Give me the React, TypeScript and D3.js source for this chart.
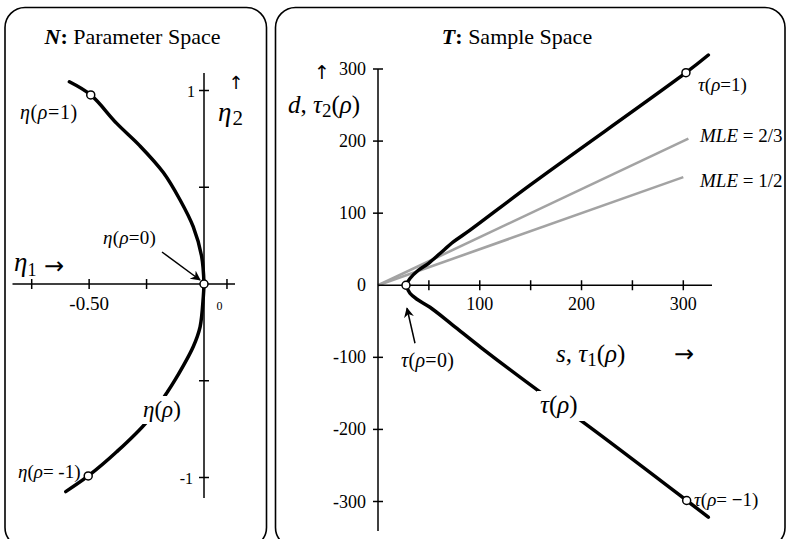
import React from "react";
import * as d3 from "d3";

// ---- Parameter space N: curve eta(rho) = (eta1, eta2) ----
const etaUpper1 = [-0.586, -0.493, -0.38, -0.279, -0.177, -0.104, -0.047, -0.01, 0];
const etaUpper2 = [1.045, 0.977, 0.83, 0.714, 0.576, 0.434, 0.296, 0.141, 0];
const etaLower1 = [-0.602, -0.504, -0.38, -0.249, -0.163, -0.126, -0.047, -0.017, -0.003, 0];
const etaLower2 = [-1.073, -0.992, -0.867, -0.712, -0.565, -0.496, -0.324, -0.221, -0.066, 0];
// marked points rho = 1, 0, -1
const etaMarks1 = [-0.493, 0, -0.504];
const etaMarks2 = [0.977, 0, -0.992];
const etaXTicks = [-0.75, -0.5, -0.25, 0.1];
const etaYTicks = [-1, -0.5, 0.5, 1];

// ---- Sample space T: curve tau(rho) = (s, d) ----
const tauUpperS = [27.5, 31.4, 39.6, 49.4, 60.9, 74.0, 90.4, 149.4, 302.6, 324.6];
const tauUpperD = [0, 9.3, 20.8, 30.1, 44.0, 60.1, 76.4, 138.9, 294.9, 319.4];
const tauLowerS = [27.5, 31.4, 38.3, 51.1, 73.7, 102.2, 160.8, 196.8, 303.3, 324.6];
const tauLowerD = [0, -11.1, -19.4, -30.6, -55.6, -87.5, -149.6, -185.1, -298.6, -321.8];
const tauMarksS = [302.6, 27.5, 303.3];
const tauMarksD = [294.9, 0, -298.6];
// lines of constant MLE: d = mle * s
const mleValues = [2 / 3, 1 / 2];
const mleLabels = ["2/3", "1/2"];
const mleEndS = [305, 300];
const sTicks = [50, 100, 150, 200, 250, 300];
const sTickLabels = [100, 200, 300];
const dTicks = [-300, -200, -100, 0, 100, 200, 300];

const SERIF = "'Liberation Serif', 'Times New Roman', serif";
const ARROW_FONT = "'DejaVu Sans', sans-serif";

const xL = d3.scaleLinear().domain([-0.75, 0]).range([31.7, 204]);
const yL = d3.scaleLinear().domain([-1, 1]).range([477.5, 90.5]);
const xR = d3.scaleLinear().domain([0, 300]).range([378, 683.3]);
const yR = d3.scaleLinear().domain([-300, 300]).range([501.5, 69]);

const zip = (a: number[], b: number[]) => a.map((v, i) => [v, b[i]] as [number, number]);

const lineL = d3
  .line<[number, number]>()
  .x((p) => xL(p[0]))
  .y((p) => yL(p[1]))
  .curve(d3.curveCatmullRom.alpha(0.5));
const lineR = d3
  .line<[number, number]>()
  .x((p) => xR(p[0]))
  .y((p) => yR(p[1]))
  .curve(d3.curveCatmullRom.alpha(0.5));

const G = { fontStyle: "italic" as const };

export default function App() {
  const ox = xL(0);
  const oy = yL(0);
  const rx = xR(0);
  const ry = yR(0);
  const v0x = xR(tauMarksS[1]);
  const v0y = yR(tauMarksD[1]);

  return (
    <div style={{ position: "absolute", left: 0, top: 0 }}>
      <svg width={787} height={539} style={{ display: "block", fontFamily: SERIF }}>
        <defs>
          <marker id="ah" viewBox="0 0 10 10" refX="9" refY="5" markerWidth="10" markerHeight="10" markerUnits="userSpaceOnUse" orient="auto">
            <path d="M0,0 L10,5 L0,10 L3,5 Z" fill="#000" />
          </marker>
        </defs>
        <rect width={787} height={539} fill="#fff" />

        {/* panel frames */}
        <rect x={5} y={7.5} width={261.5} height={540} rx={20} fill="none" stroke="#000" strokeWidth={1.6} />
        <rect x={275.5} y={7.5} width={509.5} height={540} rx={20} fill="none" stroke="#000" strokeWidth={1.6} />

        {/* ---------- left panel ---------- */}
        <text x={132.5} y={44} textAnchor="middle" fontSize={22}>
          <tspan fontWeight="bold" fontStyle="italic">N</tspan>
          <tspan fontWeight="bold">:</tspan>
          <tspan> Parameter Space</tspan>
        </text>

        <line x1={12.5} x2={235} y1={oy} y2={oy} stroke="#000" strokeWidth={1.5} />
        <line x1={ox} x2={ox} y1={73} y2={498} stroke="#000" strokeWidth={1.5} />
        {etaXTicks.map((t) => (
          <line key={t} x1={xL(t)} x2={xL(t)} y1={oy - 5} y2={oy + 5} stroke="#000" strokeWidth={1.5} />
        ))}
        {etaYTicks.map((t) => (
          <line key={t} x1={ox - 5} x2={ox + 5} y1={yL(t)} y2={yL(t)} stroke="#000" strokeWidth={1.5} />
        ))}
        <text x={xL(-0.5)} y={310} textAnchor="middle" fontSize={19}>-0.50</text>
        <text x={219.5} y={310} textAnchor="middle" fontSize={12}>0</text>
        <text x={ox - 9} y={yL(1) + 6} textAnchor="end" fontSize={16}>1</text>
        <text x={ox - 11} y={yL(-1) + 6} textAnchor="end" fontSize={16}>-1</text>

        <text x={236} y={89} textAnchor="middle" fontSize={18} fontFamily={ARROW_FONT}>↑</text>
        <text x={218} y={121} fontSize={27}>
          <tspan {...G}>η</tspan>
          <tspan fontSize={21} dy={4} dx={1}>2</tspan>
        </text>
        <text x={14} y={271} fontSize={27}>
          <tspan {...G}>η</tspan>
          <tspan fontSize={18} dy={5} dx={0}>1</tspan>
        </text>
        <text x={44} y={274} fontSize={24} fontFamily={ARROW_FONT}>→</text>

        <path d={lineL(zip(etaUpper1, etaUpper2)) || ""} fill="none" stroke="#000" strokeWidth={3.5} strokeLinecap="round" />
        <path d={lineL(zip(etaLower1, etaLower2)) || ""} fill="none" stroke="#000" strokeWidth={3.5} strokeLinecap="round" />

        <rect x={141} y={396} width={46} height={28} fill="#fff" />
        <text x={143} y={417} fontSize={23}>
          <tspan {...G}>η</tspan>(<tspan {...G}>ρ</tspan>)
        </text>

        <line x1={ox - 42} x2={ox - 4} y1={oy - 32} y2={oy - 4} stroke="#000" strokeWidth={1.5} markerEnd="url(#ah)" />
        {etaMarks1.map((v, i) => (
          <circle key={i} cx={xL(v)} cy={yL(etaMarks2[i])} r={4} fill="#fff" stroke="#000" strokeWidth={1.5} />
        ))}

        <text x={20} y={119} fontSize={20} letterSpacing={0.6}>
          <tspan {...G}>η</tspan>(<tspan {...G}>ρ</tspan>=1)
        </text>
        <text x={103} y={244} fontSize={19} letterSpacing={0.3}>
          <tspan {...G}>η</tspan>(<tspan {...G}>ρ</tspan>=0)
        </text>
        <text x={18} y={478} fontSize={19}>
          <tspan {...G}>η</tspan>(<tspan {...G}>ρ</tspan>= -1)
        </text>

        {/* ---------- right panel ---------- */}
        <text x={517} y={44} textAnchor="middle" fontSize={22}>
          <tspan fontWeight="bold" fontStyle="italic">T</tspan>
          <tspan fontWeight="bold">:</tspan>
          <tspan> Sample Space</tspan>
        </text>

        {mleValues.map((m, i) => (
          <line key={i} x1={rx} y1={ry} x2={xR(mleEndS[i])} y2={yR(m * mleEndS[i])} stroke="#a3a3a3" strokeWidth={2.6} />
        ))}
        {mleLabels.map((l, i) => (
          <text key={l} x={700} y={i === 0 ? 142 : 187} fontSize={19}>
            <tspan fontStyle="italic">MLE</tspan> = {l}
          </text>
        ))}

        <line x1={rx} x2={712} y1={ry} y2={ry} stroke="#000" strokeWidth={1.5} />
        <line x1={rx} x2={rx} y1={yR(300)} y2={531} stroke="#000" strokeWidth={1.5} />
        {sTicks.map((t) => (
          <line key={t} x1={xR(t)} x2={xR(t)} y1={ry - 5} y2={ry + 5} stroke="#000" strokeWidth={1.5} />
        ))}
        {sTickLabels.map((t) => (
          <text key={t} x={xR(t)} y={310} textAnchor="middle" fontSize={18}>{t}</text>
        ))}
        {dTicks.map((t) => (
          <g key={t}>
            {t !== 0 && <line x1={rx - 5} x2={rx + 5} y1={yR(t)} y2={yR(t)} stroke="#000" strokeWidth={1.5} />}
            <text x={366} y={yR(t) + 6} textAnchor="end" fontSize={18}>{t}</text>
          </g>
        ))}
        <text x={322} y={79} textAnchor="middle" fontSize={19} fontFamily={ARROW_FONT}>↑</text>
        <text x={288} y={113} fontSize={25}>
          <tspan fontStyle="italic">d</tspan>, <tspan {...G}>τ</tspan>
          <tspan fontSize={19} dy={4}>2</tspan>
          <tspan dy={-4}>(</tspan><tspan {...G}>ρ</tspan>)
        </text>
        <text x={556} y={362} fontSize={25}>
          <tspan fontStyle="italic">s</tspan>, <tspan {...G}>τ</tspan>
          <tspan fontSize={19} dy={4}>1</tspan>
          <tspan dy={-4}>(</tspan><tspan {...G}>ρ</tspan>)
        </text>
        <text x={674} y={362} fontSize={24} fontFamily={ARROW_FONT}>→</text>

        <path d={lineR(zip(tauUpperS, tauUpperD)) || ""} fill="none" stroke="#000" strokeWidth={3.5} strokeLinecap="round" />
        <path d={lineR(zip(tauLowerS, tauLowerD)) || ""} fill="none" stroke="#000" strokeWidth={3.5} strokeLinecap="round" />

        <rect x={537} y={391} width={48} height={30} fill="#fff" />
        <text x={540} y={413} fontSize={25}>
          <tspan {...G}>τ</tspan>(<tspan {...G}>ρ</tspan>)
        </text>

        <line x1={v0x + 9} y1={v0y + 58} x2={v0x + 1} y2={v0y + 23} stroke="#000" strokeWidth={1.5} markerEnd="url(#ah)" />
        {tauMarksS.map((v, i) => (
          <circle key={i} cx={xR(v)} cy={yR(tauMarksD[i])} r={4} fill="#fff" stroke="#000" strokeWidth={1.5} />
        ))}

        <text x={698} y={91} fontSize={19}>
          <tspan {...G}>τ</tspan>(<tspan {...G}>ρ</tspan>=1)
        </text>
        <text x={401} y={367} fontSize={20} letterSpacing={0.3}>
          <tspan {...G}>τ</tspan>(<tspan {...G}>ρ</tspan>=0)
        </text>
        <text x={694} y={506} fontSize={19}>
          <tspan {...G}>τ</tspan>(<tspan {...G}>ρ</tspan>= <tspan fontWeight="bold">−</tspan>1)
        </text>
      </svg>
    </div>
  );
}
